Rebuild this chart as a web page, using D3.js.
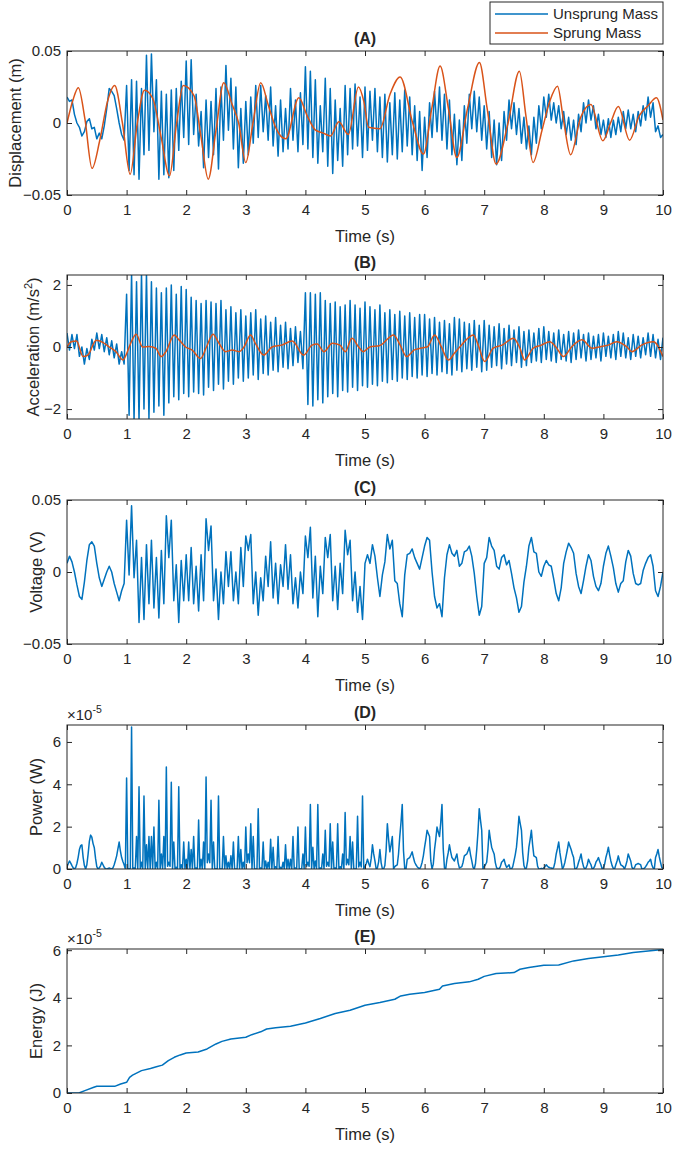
<!DOCTYPE html>
<html>
<head>
<meta charset="utf-8">
<script src="https://cdn.jsdelivr.net/npm/d3@7"></script>
<style>
  body { margin: 0; background: #fff; }
  text { font-family: "Liberation Sans", Arial, sans-serif; fill: #262626; }
</style>
</head>
<body>
<div id="chart"></div>
<script>
// ---- data ----
// uniform samples over 0..10 s
var unsprungDisp = [
  0.018,0.015,0.016,0.006,0.000,-0.003,-0.009,-0.006,0.001,0.003,-0.004,-0.003,-0.011,-0.007,-0.011,-0.002,0.010,0.024,0.022,0.019,0.010,0.000,-0.008,-0.012,
  0.026,-0.033,0.030,-0.036,0.029,-0.039,0.024,-0.022,0.047,-0.019,0.048,-0.006,0.030,-0.039,0.022,-0.036,0.020,-0.038,0.023,-0.033,0.024,-0.019,0.029,-0.010,
  0.043,-0.015,0.044,-0.008,0.020,-0.016,0.008,-0.031,0.016,-0.024,0.015,-0.022,0.024,-0.032,0.025,-0.012,0.040,-0.005,0.031,-0.018,0.025,-0.031,0.010,-0.028,
  0.015,-0.022,0.018,-0.014,0.026,-0.010,0.026,-0.006,0.019,-0.012,0.025,-0.016,0.012,-0.023,0.016,-0.020,0.010,-0.018,0.024,-0.012,0.016,-0.020,0.021,-0.015,
  0.039,-0.018,0.036,-0.024,0.030,-0.028,0.012,-0.020,0.031,-0.030,0.024,-0.035,0.016,-0.026,0.010,-0.030,0.026,-0.022,0.024,-0.018,0.027,-0.016,0.018,-0.024,
  0.025,-0.019,0.022,-0.012,0.024,-0.020,0.018,-0.024,0.020,-0.027,0.014,-0.022,0.021,-0.025,0.016,-0.020,0.023,-0.016,0.018,-0.022,0.012,-0.026,0.008,-0.033,
  0.004,-0.024,0.014,-0.010,0.022,-0.006,0.025,-0.012,0.020,-0.018,0.016,-0.022,0.006,-0.029,0.002,-0.026,0.012,-0.014,0.020,-0.004,0.022,-0.006,0.018,-0.012,
  0.012,-0.018,0.008,-0.024,0.002,-0.029,0.000,-0.026,0.008,-0.012,0.016,-0.004,0.014,-0.008,0.010,-0.014,0.004,-0.018,-0.002,-0.022,0.004,-0.014,0.012,-0.004,
  0.018,0.004,0.020,0.002,0.014,0.000,0.012,-0.004,0.008,-0.008,0.004,-0.012,0.002,-0.015,0.006,-0.006,0.014,0.000,0.016,0.002,0.012,-0.004,0.006,-0.008,
  0.002,-0.010,0.003,-0.010,0.002,-0.008,0.004,-0.006,0.008,-0.004,0.009,-0.004,0.006,-0.006,0.008,-0.002,0.012,0.002,0.018,0.004,0.014,-0.006,-0.002,-0.010,-0.008
];

// [time, value] points
var sprungDisp = [
  [0,0],[0.1,0.016],[0.19,0.0245],[0.3,0.003],[0.42,-0.0315],[0.55,-0.012],[0.68,0.015],[0.8,0.026],[0.93,0.0],[1.06,-0.0356],
  [1.18,0.0],[1.3,0.0227],[1.44,0.017],[1.58,-0.01],[1.72,-0.0367],[1.84,0.0],[1.95,0.026],[2.13,0.019],[2.25,-0.01],[2.37,-0.039],
  [2.5,-0.005],[2.63,0.028],[2.77,0.013],[2.88,0.0],[3.0,-0.0275],[3.12,0.0],[3.25,0.028],[3.38,0.012],[3.5,-0.003],[3.67,-0.011],
  [3.89,0.0175],[4.03,0.005],[4.17,-0.005],[4.3,-0.007],[4.42,-0.009],[4.56,0.0008],[4.72,-0.008],[4.89,0.025],[4.98,0.015],[5.06,-0.003],
  [5.25,-0.004],[5.42,0.02],[5.59,0.032],[5.8,0.0],[5.98,-0.0216],[6.12,0.01],[6.26,0.0395],[6.4,0.01],[6.54,-0.024],[6.72,0.01],
  [6.92,0.042],[7.05,0.01],[7.2,-0.0285],[7.4,0.0],[7.59,0.036],[7.7,0.005],[7.82,-0.0274],[7.97,-0.005],[8.1,0.015],[8.23,0.0255],
  [8.33,0.002],[8.45,-0.022],[8.62,0.004],[8.79,0.0128],[8.99,-0.0123],[9.12,0.0],[9.25,0.0114],[9.44,-0.0119],[9.6,0.005],[9.75,0.012],
  [9.89,0.0175],[10,0.002]
];

var unsprungAcc = [
  0.45,-0.10,0.40,-0.05,0.40,-0.30,0.00,-0.55,-0.05,-0.40,0.25,-0.10,0.45,-0.05,0.40,-0.15,0.30,-0.25,0.20,-0.35,0.10,-0.55,-0.15,-0.55,
  1.7,-2.2,2.35,-2.35,2.1,-2.35,2.35,-2.0,2.35,-2.3,2.1,-2.1,1.9,-1.9,1.75,-2.2,1.9,-1.8,2.0,-1.6,1.7,-1.7,1.95,-1.5,
  1.85,-1.6,1.6,-1.45,1.5,-1.5,1.4,-1.55,1.5,-1.3,1.45,-1.4,1.4,-1.2,1.5,-1.35,1.2,-1.1,1.3,-1.2,1.1,-1.0,1.2,-1.1,
  1.0,-1.0,1.1,-0.9,1.2,-1.05,0.9,-0.85,1.0,-0.9,0.8,-0.75,0.95,-0.8,0.7,-0.65,0.8,-0.7,0.6,-0.6,0.65,-0.5,0.5,-0.7,
  1.75,-1.85,1.75,-1.9,1.7,-1.7,1.75,-1.8,1.5,-1.6,1.4,-1.5,1.45,-1.6,1.3,-1.4,1.35,-1.45,1.5,-1.3,1.35,-1.4,1.25,-1.25,
  1.45,-1.3,1.3,-1.2,1.2,-1.25,1.35,-1.1,1.1,-1.15,1.2,-1.05,1.05,-1.1,1.15,-1.0,1.0,-1.05,1.1,-0.95,0.95,-1.0,1.05,-0.9,
  1.05,-0.95,0.9,-0.85,0.95,-0.9,0.8,-0.8,0.85,-0.85,0.75,-0.9,0.95,-0.75,0.9,-0.8,0.8,-0.7,0.75,-0.75,0.85,-0.65,0.7,-0.8,
  0.85,-0.75,0.7,-0.65,0.65,-0.6,0.75,-0.7,0.6,-0.55,0.7,-0.6,0.55,-0.5,0.65,-0.65,0.5,-0.6,0.55,-0.5,0.45,-0.45,0.6,-0.5,
  0.65,-0.4,0.5,-0.45,0.45,-0.5,0.55,-0.4,0.4,-0.45,0.5,-0.5,0.45,-0.4,0.55,-0.35,0.4,-0.45,0.45,-0.4,0.35,-0.35,0.4,-0.45,
  0.45,-0.3,0.35,-0.35,0.4,-0.4,0.5,-0.3,0.45,-0.35,0.3,-0.4,0.4,-0.3,0.35,-0.35,0.3,-0.25,0.45,-0.3,0.4,-0.35,0.25,-0.4,0.3
];

var sprungAcc = [
  [0,0],[0.07,0.17],[0.16,0.19],[0.27,-0.31],[0.35,-0.26],[0.49,0.22],[0.6,0.15],[0.71,0],[0.82,-0.15],[0.94,-0.42],
  [0.99,-0.26],[1.08,0.17],[1.16,0.41],[1.27,0],[1.38,0.02],[1.49,-0.04],[1.58,-0.31],[1.66,-0.15],[1.8,0.39],[1.88,0.23],
  [1.99,0],[2.1,-0.1],[2.24,-0.37],[2.34,0.0],[2.45,0.41],[2.55,0.12],[2.66,-0.15],[2.77,-0.1],[2.89,-0.15],[2.97,0],
  [3.08,0.39],[3.16,0.12],[3.3,-0.26],[3.44,0],[3.6,0.06],[3.78,0.19],[3.97,-0.26],[4.11,0.06],[4.2,0.1],[4.31,-0.15],
  [4.45,0.12],[4.58,0.06],[4.67,-0.15],[4.78,0.28],[4.89,0.01],[4.97,-0.15],[5.08,0],[5.25,0.05],[5.48,0.39],[5.59,0.06],
  [5.7,-0.31],[5.82,-0.1],[5.93,-0.04],[6.05,0.01],[6.17,0.39],[6.28,0.01],[6.4,-0.42],[6.5,-0.2],[6.59,0],[6.82,0.39],
  [6.9,0.06],[7.01,-0.47],[7.15,-0.04],[7.3,0.06],[7.49,0.28],[7.6,-0.04],[7.68,-0.42],[7.82,-0.04],[7.96,0.06],[8.1,0.17],
  [8.2,0.01],[8.33,-0.31],[8.47,0.01],[8.64,0.23],[8.81,-0.04],[8.95,0.01],[9.08,0.06],[9.22,0.17],[9.39,0.01],[9.48,-0.15],
  [9.64,0.06],[9.84,0.17],[10,-0.31]
];

var voltage = [
  0.006,0.011,0.007,0.000,-0.009,-0.017,-0.019,-0.007,0.008,0.019,0.021,0.018,0.006,-0.004,-0.010,-0.005,0.000,0.004,0.000,-0.008,-0.014,-0.020,-0.013,-0.008,
  0.036,-0.002,0.046,-0.004,0.022,-0.035,0.010,-0.033,0.019,-0.022,0.022,-0.025,0.010,-0.032,0.015,-0.022,0.039,0.010,0.036,-0.020,0.005,-0.035,0.008,-0.020,
  0.012,-0.020,0.017,-0.022,0.004,-0.027,0.012,-0.020,0.037,0.015,0.032,-0.020,0.002,-0.033,0.000,-0.022,0.014,-0.010,0.014,-0.020,0.000,-0.022,0.017,-0.010,
  0.025,0.015,0.026,-0.022,0.000,-0.030,-0.004,-0.020,0.011,-0.010,0.021,-0.018,0.006,-0.022,0.005,-0.010,0.019,-0.012,0.012,-0.022,-0.004,-0.025,0.000,-0.015,
  0.025,0.010,0.031,-0.018,0.011,-0.031,0.004,-0.015,0.024,0.010,0.026,-0.020,0.004,-0.026,0.006,-0.015,0.029,0.012,0.022,-0.020,0.000,-0.028,-0.010,-0.033,
  0.006,0.012,0.006,0.019,0.011,-0.004,-0.017,-0.002,0.007,0.026,0.016,0.022,-0.006,-0.008,-0.022,-0.031,-0.002,0.012,0.013,0.016,0.010,0.006,0.002,0.010,
  0.018,0.024,0.022,0.000,-0.017,-0.025,-0.022,-0.031,-0.004,0.012,0.019,0.013,0.011,0.015,0.004,0.006,0.014,0.015,0.018,0.011,-0.001,-0.017,-0.030,-0.024,
  0.006,0.010,0.024,0.018,0.015,0.004,0.002,0.010,0.012,0.005,0.008,-0.001,-0.011,-0.018,-0.028,-0.024,-0.007,0.004,0.018,0.024,0.014,0.013,0.000,-0.003,
  0.004,0.008,0.005,0.004,-0.005,-0.015,-0.020,-0.011,0.006,0.014,0.020,0.017,0.013,-0.001,-0.010,-0.015,-0.006,0.004,0.012,0.008,-0.003,-0.010,-0.013,-0.008,
  0.004,0.013,0.018,0.011,0.003,-0.008,-0.014,-0.008,-0.006,0.007,0.015,0.011,-0.001,-0.008,-0.009,-0.008,0.001,0.006,0.010,0.012,0.004,-0.013,-0.017,-0.010,0.000
];

// power in units of 1e-5 W
var powerE5 = [
  0.11,0.25,0.38,0.28,0.16,0.05,0,0.07,0.26,0.55,0.92,1.1,1.14,0.55,0.16,0,0.2,0.7,1.3,1.6,1.5,1.2,1.0,0.5,
  0.11,0,0.05,0.15,0.32,0.2,0.08,0.01,0,0.02,0.05,0.02,0,0.05,0.2,0.4,0.62,0.95,1.27,0.85,0.54,0.35,0.2,0,
  4.3,0,0.01,0,6.7,0,0.05,0,1.53,0,3.88,0,0.32,0,3.45,0,1.14,0,1.53,0,1.53,0,1.98,0,
  0.32,0,3.25,0,0.71,0,1.53,0,4.82,0.13,0.32,0.13,4.1,0,1.27,0,0.08,0,3.88,0,0.2,0,1.27,0,
  0.46,0,1.27,0,0.92,0,1.53,0,0.05,0,2.31,0,0.46,0,1.27,0,4.34,0.3,0.71,0.3,3.25,0,1.27,0,
  0.01,0,3.45,0,0,0,1.53,0,0.62,0,0.32,0,0.62,0,1.27,0,0,0,1.53,0,0.92,0,0.32,0,
  1.98,0.3,0.71,0.3,2.14,0,1.53,0,0,0,2.85,0.02,0.05,0.02,1.27,0,0.38,0,0.32,0,1.4,0,1.03,0,
  0.11,0,1.53,0,0.08,0,0.32,0,1.14,0,0.46,0,0.46,0,1.53,0.02,0.05,0.02,1.98,0,0,0,0.71,0,
  1.98,0.13,0.32,0.13,3.05,0,1.03,0,0.38,0,3.05,0,0.05,0,0.71,0,1.83,0.13,0.32,0.13,2.14,0,1.27,0,
  0.05,0,2.14,0,0.11,0,0.71,0,2.67,0.2,0.46,0.2,1.53,0,1.27,0,0,0,2.49,0.1,0.32,0.1,3.45,0,
  0.11,0.26,0.46,0.26,0.11,0.5,1.14,0.71,0.38,0,0.05,0.35,0.92,0.29,0.01,0,0.16,0.86,2.14,1.4,0.81,1.14,1.53,0,
  0.11,0.16,0.2,0.71,1.53,2.2,3.05,0.86,0.01,0,0.46,0.5,0.54,0.67,0.81,0.54,0.32,0.2,0.11,0.05,0.01,0.11,0.32,0.62,
  1.03,1.4,1.83,1.68,1.53,0.38,0,0.23,0.92,1.4,1.98,1.75,1.53,2.2,3.05,0.97,0.05,0,0.46,0.76,1.14,0.81,0.54,0.46,
  0.38,0.54,0.71,0.29,0.05,0.08,0.11,0.32,0.62,0.67,0.71,0.86,1.03,0.67,0.38,0.08,0,0.26,0.92,1.75,2.85,2.31,1.83,0,
  0.11,0.2,0.32,0.92,1.83,1.4,1.03,0.86,0.71,0.29,0.05,0.03,0.01,0.11,0.32,0.38,0.46,0.23,0.08,0.13,0.2,0,0,0.11,
  0.38,0.67,1.03,1.68,2.49,2.14,1.83,0.76,0.16,0,0.05,0.38,1.03,1.4,1.83,1.14,0.62,0.58,0.54,0.13,0,0,0.03,0,
  0.05,0.11,0.2,0.13,0.08,0.06,0.05,0,0.08,0.32,0.71,0.97,1.27,0.76,0.38,0,0.11,0.32,0.62,0.92,1.27,1.08,0.92,0.71,
  0.54,0,0,0.1,0.32,0.5,0.71,0.35,0.11,0,0.05,0.2,0.46,0.32,0.2,0,0.03,0.13,0.32,0.42,0.54,0.35,0.2,0,
  0.05,0.23,0.54,0.76,1.03,0.67,0.38,0.16,0.03,0,0.2,0.38,0.62,0.38,0.2,0.16,0.11,0,0.16,0.38,0.71,0.54,0.38,0.08,
  0,0.06,0.2,0.23,0.26,0.23,0.2,0,0,0.04,0.11,0.2,0.32,0.38,0.46,0.2,0.05,0,0.54,0.71,0.92,0.58,0.32,0.08,
  0
];

// energy in units of 1e-5 J, [time, value]
var energyE5 = [
  [0,0],[0.2,0],[0.3,0.1],[0.45,0.24],[0.5,0.28],[0.8,0.28],[0.9,0.38],[1.0,0.45],[1.05,0.66],[1.1,0.75],
  [1.25,0.94],[1.4,1.03],[1.5,1.1],[1.6,1.17],[1.7,1.36],[1.8,1.5],[1.9,1.6],[2.0,1.68],[2.2,1.72],[2.35,1.85],
  [2.5,2.06],[2.6,2.17],[2.75,2.27],[3.0,2.34],[3.1,2.45],[3.25,2.57],[3.35,2.69],[3.5,2.74],[3.75,2.8],[4.0,2.94],
  [4.25,3.13],[4.5,3.34],[4.75,3.48],[5.0,3.69],[5.25,3.8],[5.5,3.94],[5.6,4.08],[5.75,4.15],[6.0,4.22],[6.25,4.36],
  [6.3,4.5],[6.5,4.6],[6.75,4.67],[6.9,4.78],[7.0,4.9],[7.2,5.02],[7.5,5.06],[7.6,5.2],[7.75,5.27],[8.0,5.37],
  [8.25,5.38],[8.5,5.55],[8.75,5.65],[9.0,5.72],[9.25,5.8],[9.5,5.9],[9.75,5.97],[10,6.03]
];

var timeTicks = [0,1,2,3,4,5,6,7,8,9,10];
var dispTicks = [-0.05, 0, 0.05];
var accTicks = [-2, 0, 2];
var voltTicks = [-0.05, 0, 0.05];
var e5Ticks = [0, 2, 4, 6];
var legendNames = ['Unsprung Mass', 'Sprung Mass'];

// ---- drawing ----
var BLUE = '#0072BD', ORANGE = '#D95319';
var left = 67, right = 663, ph = 144;
var svg = d3.select('#chart').append('svg').attr('width', 677).attr('height', 1149);
var x = d3.scaleLinear().domain([0, 10]).range([left, right]);

function uniform(arr) {
  var step = 10 / (arr.length - 1);
  return arr.map(function (v, i) { return [i * step, v]; });
}

function drawPanel(cfg) {
  var top = cfg.top, bottom = cfg.top + ph;
  var y = d3.scaleLinear().domain(cfg.domain).range([bottom, top]);
  var g = svg.append('g');

  var clipId = 'clip-' + cfg.key;
  svg.append('clipPath').attr('id', clipId)
    .append('rect').attr('x', left).attr('y', top).attr('width', right - left).attr('height', ph);

  cfg.series.forEach(function (s) {
    var line = d3.line().x(function (d) { return x(d[0]); }).y(function (d) { return y(d[1]); })
      .curve(s.smooth ? d3.curveMonotoneX : d3.curveLinear);
    g.append('path').datum(s.points)
      .attr('clip-path', 'url(#' + clipId + ')')
      .attr('d', line)
      .attr('fill', 'none')
      .attr('stroke', s.color)
      .attr('stroke-width', 1.5)
      .attr('stroke-linejoin', 'round');
  });

  // axes, MATLAB style ticks pointing inward
  var ax = g.append('g').attr('class', 'axes');
  ax.append('g').attr('transform', 'translate(0,' + bottom + ')')
    .call(d3.axisBottom(x).tickValues(timeTicks).tickSizeInner(-5).tickSizeOuter(0).tickPadding(9).tickFormat(d3.format('d')));
  ax.append('g').attr('transform', 'translate(0,' + top + ')')
    .call(d3.axisTop(x).tickValues(timeTicks).tickSizeInner(-5).tickSizeOuter(0).tickFormat(''));
  ax.append('g').attr('transform', 'translate(' + left + ',0)')
    .call(d3.axisLeft(y).tickValues(cfg.ticks).tickSizeInner(-5).tickSizeOuter(0).tickPadding(6).tickFormat(cfg.fmt));
  ax.append('g').attr('transform', 'translate(' + right + ',0)')
    .call(d3.axisRight(y).tickValues(cfg.ticks).tickSizeInner(-5).tickSizeOuter(0).tickFormat(''));
  ax.selectAll('.domain').remove();
  ax.selectAll('line').attr('stroke', '#262626');
  ax.selectAll('text').attr('font-size', 15).attr('font-family', '"Liberation Sans", Arial, sans-serif').attr('fill', '#262626');

  g.append('rect').attr('x', left).attr('y', top).attr('width', right - left).attr('height', ph)
    .attr('fill', 'none').attr('stroke', '#262626').attr('stroke-width', 1);

  g.append('text').attr('x', (left + right) / 2).attr('y', top - 7)
    .attr('text-anchor', 'middle').attr('font-size', 16).attr('font-weight', 'bold').text(cfg.title);

  g.append('text').attr('x', (left + right) / 2).attr('y', bottom + 47)
    .attr('text-anchor', 'middle').attr('font-size', 16.5).text('Time (s)');

  var yl = g.append('text')
    .attr('transform', 'translate(' + cfg.labelX + ',' + (top + ph / 2) + ') rotate(-90)')
    .attr('text-anchor', 'middle').attr('font-size', 16.5);
  yl.append('tspan').text(cfg.label);
  if (cfg.sup) {
    yl.append('tspan').attr('dy', -7).attr('font-size', 11).text(cfg.sup);
    yl.append('tspan').attr('dy', 7).text(cfg.labelEnd);
  }

  if (cfg.exponent) {
    var ex = g.append('text').attr('x', left).attr('y', top - 5).attr('font-size', 15).attr('fill', '#444');
    ex.append('tspan').text('\u00d710');
    ex.append('tspan').attr('dy', -7).attr('font-size', 10.5).text('-5');
  }
}

var fmtDec = function (d) { return d === 0 ? '0' : d3.format('.2f')(d); };
var fmtInt = d3.format('d');

drawPanel({ key: 'a', title: '(A)', top: 51, domain: [-0.05, 0.05], ticks: dispTicks, fmt: fmtDec,
  label: 'Displacement (m)', labelX: 21,
  series: [{ points: uniform(unsprungDisp), color: BLUE }, { points: sprungDisp, color: ORANGE, smooth: true }] });

drawPanel({ key: 'b', title: '(B)', top: 275, domain: [-2.32, 2.32], ticks: accTicks, fmt: fmtInt,
  label: 'Acceleration (m/s', sup: '2', labelEnd: ')', labelX: 39,
  series: [{ points: uniform(unsprungAcc), color: BLUE }, { points: sprungAcc, color: ORANGE, smooth: true }] });

drawPanel({ key: 'c', title: '(C)', top: 500, domain: [-0.05, 0.05], ticks: voltTicks, fmt: fmtDec,
  label: 'Voltage (V)', labelX: 42,
  series: [{ points: uniform(voltage), color: BLUE }] });

drawPanel({ key: 'd', title: '(D)', top: 725, domain: [0, 6.8], ticks: e5Ticks, fmt: fmtInt,
  label: 'Power (W)', labelX: 42, exponent: true,
  series: [{ points: uniform(powerE5), color: BLUE }] });

drawPanel({ key: 'e', title: '(E)', top: 949, domain: [0, 6.05], ticks: e5Ticks, fmt: fmtInt,
  label: 'Energy (J)', labelX: 42, exponent: true,
  series: [{ points: energyE5, color: BLUE }] });

// legend
var lg = svg.append('g');
lg.append('rect').attr('x', 490).attr('y', 2).attr('width', 173).attr('height', 42)
  .attr('fill', '#fff').attr('stroke', '#262626').attr('stroke-width', 1);
[BLUE, ORANGE].forEach(function (c, i) {
  var yy = 14 + i * 19;
  lg.append('line').attr('x1', 495).attr('x2', 548).attr('y1', yy).attr('y2', yy)
    .attr('stroke', c).attr('stroke-width', 1.5);
  lg.append('text').attr('x', 553).attr('y', yy + 5).attr('font-size', 15).text(legendNames[i]);
});
</script>
</body>
</html>
